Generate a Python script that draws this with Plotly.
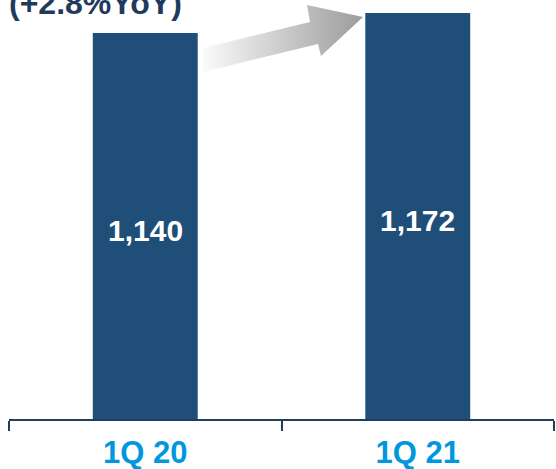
import base64
import plotly.graph_objects as go

categories = ["1Q 20", "1Q 21"]
values = [1140, 1172]
growth_label = "(+2.8%YoY)"
y_min, y_max = 520, 1193

bar_color = "#1f4e79"
tick_color = "#0097e0"
axis_color = "#1f3f5f"

W, H = 556, 469
ML, MR, MT, MB = 9, 2, 0, 50
PW, PH = W - ML - MR, H - MT - MB

fig = go.Figure()
fig.add_trace(go.Bar(
    x=categories, y=values,
    marker=dict(color=bar_color, line=dict(width=0)),
    hoverinfo="skip",
))
for c, v in zip(categories, values):
    fig.add_annotation(
        x=c, y=(y_min + v) / 2, text=f"{v:,}", showarrow=False, yshift=-4,
        font=dict(color="white", size=30, family="Liberation Sans, Arial", weight="bold"),
    )

# decorative gradient arrow (SVG image)
svg = (
    '<svg xmlns="http://www.w3.org/2000/svg" viewBox="0 0 166 72" preserveAspectRatio="none">'
    '<defs><linearGradient id="g" x1="0" y1="0" x2="1" y2="0">'
    '<stop offset="0" stop-color="#fafafa"/><stop offset="1" stop-color="#9c9c9c"/>'
    '</linearGradient></defs>'
    '<polygon points="3,45 110,19 107,2 163,14 121,53 118,41 3,69" fill="url(#g)"/>'
    '</svg>'
)
src = "data:image/svg+xml;base64," + base64.b64encode(svg.encode()).decode()

def px_x(p):
    return (p - ML) / PW

def px_y(p):
    return (H - MB - p) / PH

fig.add_layout_image(dict(
    source=src, xref="paper", yref="paper",
    x=px_x(200), y=px_y(3), sizex=166 / PW, sizey=72 / PH,
    xanchor="left", yanchor="top", sizing="stretch", layer="above",
))

fig.add_annotation(
    text=growth_label, xref="paper", yref="paper",
    x=px_x(7), y=px_y(3), xanchor="left", yanchor="middle",
    showarrow=False,
    font=dict(size=32, color="#1f3a5c", family="Liberation Sans, Arial", weight="bold"),
)

fig.update_layout(
    width=W, height=H,
    margin=dict(l=ML, r=MR, t=MT, b=MB, pad=0),
    paper_bgcolor="white", plot_bgcolor="white",
    bargap=0.615, showlegend=False,
    xaxis=dict(
        showline=True, linecolor=axis_color, linewidth=2,
        ticks="outside", tickson="boundaries", ticklen=10, tickwidth=2, tickcolor=axis_color,
        ticklabelstandoff=5,
        tickfont=dict(size=31, color=tick_color, family="Liberation Sans, Arial", weight="bold"),
        showgrid=False, zeroline=False, automargin=False,
    ),
    yaxis=dict(range=[y_min, y_max], visible=False, showgrid=False, zeroline=False),
)

fig.write_html("out.html", config={"displayModeBar": False},
               post_script="document.body.style.margin='0';")
